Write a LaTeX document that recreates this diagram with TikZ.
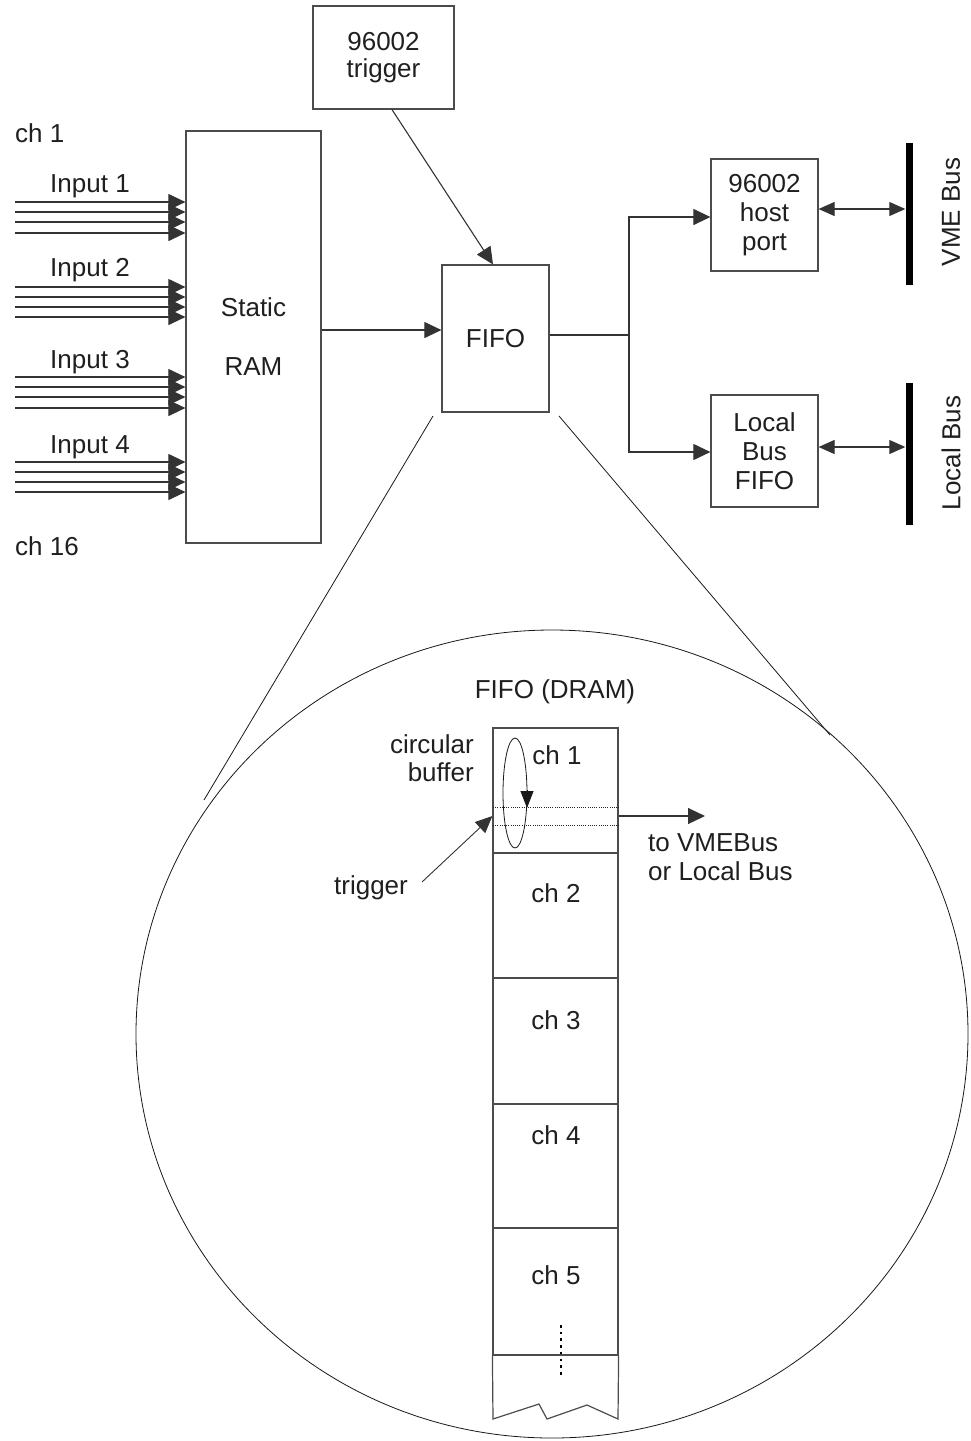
\documentclass[tikz,border=0pt]{standalone}
\usepackage{fontspec}
\setmainfont{Liberation Sans}
\usetikzlibrary{arrows.meta}
\begin{document}
\begin{tikzpicture}[x=1pt,y=-1pt,
  every node/.style={font=\fontsize{26}{29}\selectfont, text=black!88, inner sep=0pt},
  box/.style={draw=black!70, line width=1.2pt, align=center},
  cell/.style={draw=black!70, line width=1.2pt, minimum width=125pt},
  ln/.style={draw=black!80, line width=1.1pt},
  arr/.style={ln, -{Triangle[length=17pt,width=16pt]}},
  darr/.style={ln, {Triangle[length=16pt,width=14pt]}-{Triangle[length=16pt,width=14pt]}},
  thinline/.style={draw=black!90, line width=0.8pt},
  bar/.style={fill=black, draw=none, minimum width=7pt, inner sep=0pt},
]
\useasboundingbox (0,0) rectangle (970,1441);

% ---- upper block diagram ----
\node[box, minimum width=141pt, minimum height=103pt, font=\fontsize{26}{27}\selectfont] (trig) at (383.5,57.5) {96002\\trigger};
\node[box, minimum width=135pt, minimum height=412pt] (ram) at (253.5,337) {Static\\[30pt]RAM};
\node[box, minimum width=107pt, minimum height=147pt] (fifo) at (495.5,338.5) {FIFO};
\node[box, minimum width=107pt, minimum height=112pt] (host) at (764.5,215) {96002\\host\\port};
\node[box, minimum width=107pt, minimum height=112pt] (lbf) at (764.5,451) {Local\\Bus\\FIFO};
\node[bar, minimum height=142pt] (vme) at (909,214) {};
\node[bar, minimum height=142pt] (lbus) at (909,454) {};
\node[rotate=90] (vmel) at (951,212) {VME Bus};
\node[rotate=90] (lbusl) at (951,453) {Local Bus};

\node[anchor=west] (ch1) at (15,133) {ch 1};
\node[anchor=west] (ch16) at (15,546) {ch 16};
\node (in1) at (90,186) {Input 1};
\node (in2) at (90,270) {Input 2};
\node (in3) at (90,362) {Input 3};
\node (in4) at (90,447) {Input 4};

\foreach \y in {202,212,222,233,287,297,307,317,377,387,397,408,462,472,482,492} {
  \coordinate (s) at (15,\y);
  \draw[arr] (s) -- (s -| ram.west);
}

\draw[arr] ([xshift=8.5pt]trig.south) -- ([xshift=-2.5pt]fifo.north);
\path ([yshift=7pt]ram.east) coordinate (r1);
\draw[arr] (r1) -- (r1 -| fifo.west);
\coordinate (br) at (629,335);
\draw[ln] ([yshift=3.5pt]fifo.east) -- (br);
\draw[arr] (br) |- ([yshift=-2pt]host.west);
\draw[arr] (br) |- ([yshift=-1pt]lbf.west);
\path ([yshift=6pt]host.east) coordinate (h1);
\draw[darr] (h1) -- (h1 -| vme.west);
\path ([yshift=4pt]lbf.east) coordinate (l1);
\draw[darr] (l1) -- (l1 -| lbus.west);

% ---- zoom lines and circle ----
\coordinate (zl1) at (433,416);
\coordinate (zl2) at (204,800);
\coordinate (zr1) at (559,416);
\coordinate (zr2) at (830,735);
\draw[thinline] (zl1) -- (zl2);
\draw[thinline] (zr1) -- (zr2);
\draw[thinline] (552,1034) ellipse [x radius=416pt, y radius=404pt];

% ---- DRAM column ----
\node (dram) at (555,692) {FIFO (DRAM)};
\node[cell, minimum height=125pt] (c1) at (555.5,790.5) {};
\node[cell, minimum height=125pt] (c2) at (555.5,915.5) {};
\node[cell, minimum height=126pt] (c3) at (555.5,1041) {};
\node[cell, minimum height=124pt] (c4) at (555.5,1166) {};
\node[cell, minimum height=127pt] (c5) at (555.5,1291.5) {};
\coordinate (z1) at (493,1419);
\coordinate (z2) at (539,1404);
\coordinate (z3) at (547,1419);
\coordinate (z4) at (587,1405);
\coordinate (z5) at (618,1419);
\draw[draw=black!70, line width=1.2pt] (c5.south west) -- (z1) -- (z2) -- (z3) -- (z4) -- (z5) -- (c5.south east);

\node (t1) at (557,755) {ch 1};
\node (t2) at (556,893) {ch 2};
\node (t3) at (556,1020) {ch 3};
\node (t4) at (556,1135) {ch 4};
\node (t5) at (556,1275) {ch 5};

\coordinate (dv1) at (561,1325);
\coordinate (dv2) at (561,1375);
\draw[black, line width=2.6pt, dash pattern=on 2.6pt off 4.1pt] (dv1) -- (dv2);

\coordinate (d1) at (493,807);
\coordinate (d2) at (493,825);
\draw[black!85, line width=0.9pt, dash pattern=on 1pt off 1.2pt] (d1) -- (d1 -| c1.east);
\draw[black!85, line width=0.9pt, dash pattern=on 1pt off 1.2pt] (d2) -- (d2 -| c1.east);

\coordinate (ec) at (515,793);
\draw[thinline] (ec) ellipse [x radius=12pt, y radius=55pt];
\coordinate (ea1) at (527,790);
\coordinate (ea2) at (527,808);
\draw[thinline, -{Triangle[length=17pt,width=13pt]}] (ea1) -- (ea2);

\node[align=right, anchor=east, font=\fontsize{26}{28}\selectfont] (cb) at (474,758) {circular\\buffer};
\node (trl) at (371,888) {trigger};
\coordinate (tg) at (422,882);
\draw[ln, line width=0.9pt, -{Triangle[length=17pt,width=15pt]}] (tg) -- ([yshift=-25.5pt]c1.west);
\path ([yshift=-25.5pt]c1.east) coordinate (o1);
\coordinate (o2) at (705,816);
\draw[arr] (o1) -- (o2);
\node[align=left, anchor=west] (tol) at (648,857) {to VMEBus\\or Local Bus};

\end{tikzpicture}
\end{document}
